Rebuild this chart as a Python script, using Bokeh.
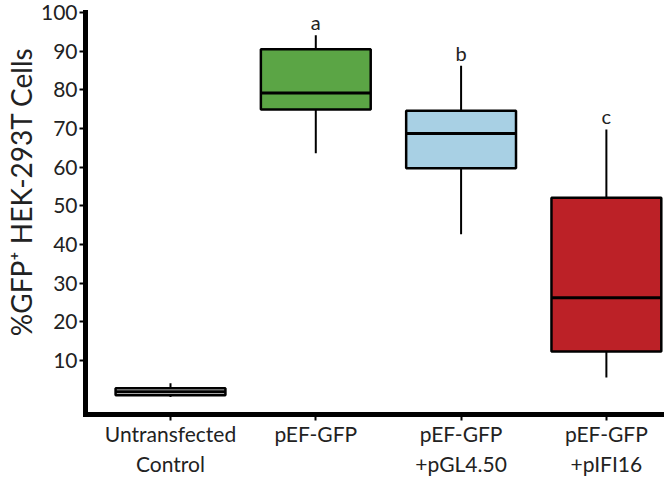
from bokeh.plotting import figure
from bokeh.models import ColumnDataSource, FixedTicker, Title
from bokeh.embed import file_html
from bokeh.resources import INLINE
from bokeh.core.properties import value

categories = ["Untransfected\nControl", "pEF-GFP", "pEF-GFP\n+pGL4.50", "pEF-GFP\n+pIFI16"]
whisker_low = [0.5, 63.6, 42.6, 5.6]
q1 = [1.0, 74.9, 59.7, 12.3]
median = [1.9, 79.2, 68.7, 26.2]
q3 = [2.8, 90.5, 74.6, 52.1]
whisker_high = [4.1, 94.1, 86.2, 69.7]
colors = ["#dcdcdc", "#5ba545", "#a8d0e4", "#bc2127"]
sig_letters = ["", "a", "b", "c"]
y_ticks = [10, 20, 30, 40, 50, 60, 70, 80, 90, 100]

FONT = "Lato"
xs = list(range(1, len(categories) + 1))

p = figure(width=664, height=478, x_range=(0.415, 4.40), y_range=(-4, 100),
           output_backend="svg", toolbar_location=None,
           min_border_left=85, min_border_top=12, min_border_right=0, min_border_bottom=63)
p.outline_line_color = None
p.xgrid.visible = False
p.ygrid.visible = False
p.background_fill_color = "white"
p.border_fill_color = "white"

src = ColumnDataSource(dict(x=xs, lo=whisker_low, q1=q1, med=median, q3=q3, hi=whisker_high,
                            color=colors,
                            left=[x - 0.378 for x in xs], right=[x + 0.378 for x in xs],
                            letter=sig_letters, ly=[h + 3.4 for h in whisker_high]))

p.segment(x0="x", y0="lo", x1="x", y1="hi", source=src, line_color="black", line_width=2)
p.vbar(x="x", width=0.756, bottom="q1", top="q3", source=src, fill_color="color",
       line_color="black", line_width=2.5)
p.segment(x0="left", y0="med", x1="right", y1="med", source=src, line_color="black", line_width=3)
p.text(x="x", y="ly", text="letter", source=src, text_align="center", text_baseline="middle",
       text_font=value(FONT), text_font_size="20px", text_color="#222222")

ya = p.yaxis[0]
ya.ticker = FixedTicker(ticks=y_ticks)
ya.axis_line_width = 5
ya.axis_line_cap = "square"
ya.major_tick_line_width = 2
ya.major_tick_out = 6
ya.major_tick_in = 0
ya.minor_tick_line_color = None
ya.major_label_text_font = FONT
ya.major_label_text_font_size = "21px"
ya.major_label_text_color = "#222222"
ya.major_label_standoff = 2

xa = p.xaxis[0]
xa.ticker = FixedTicker(ticks=xs)
xa.major_label_overrides = {x: c for x, c in zip(xs, categories)}
xa.axis_line_width = 5
xa.axis_line_cap = "square"
xa.major_tick_line_width = 2
xa.major_tick_out = 6
xa.major_tick_in = 0
xa.minor_tick_line_color = None
xa.major_label_text_font = FONT
xa.major_label_text_font_size = "21px"
xa.major_label_text_color = "#222222"
xa.major_label_standoff = 0

p.add_layout(Title(text="%GFP\u207a HEK-293T Cells", align="right", offset=35, standoff=0,
                   text_font=FONT, text_font_size="28px", text_font_style="normal",
                   text_color="#222222"), "left")

open("out.html", "w").write(file_html(p, INLINE))
